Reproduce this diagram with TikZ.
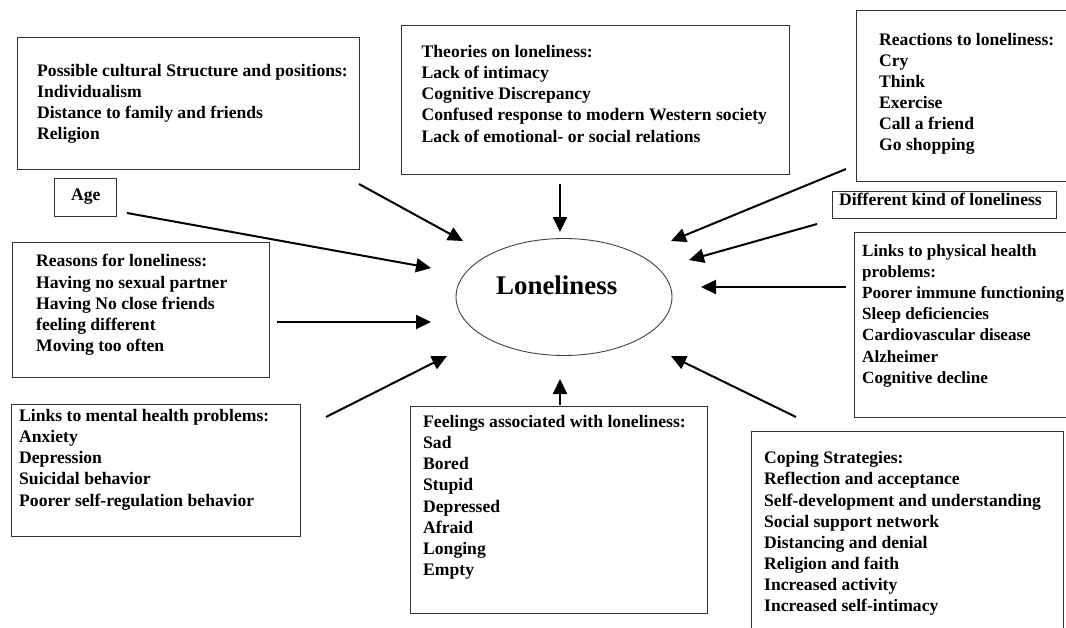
\documentclass[tikz,border=0pt]{standalone}
\usepackage{fontspec}
\setmainfont{Liberation Serif}
\usetikzlibrary{arrows.meta,shapes.geometric}
\tikzset{
  frame/.style={draw=black!80, line width=1.3pt, inner sep=0pt, anchor=north west},
  txt/.style={inner sep=0pt, anchor=north west, align=left, font=\bfseries\fontsize{17.6}{21.15}\selectfont},
  conn/.style={line width=2pt, -{Triangle[length=15pt,width=14pt]}},
}
\begin{document}
\begin{tikzpicture}[x=1pt,y=-1pt]
\useasboundingbox (0,0) rectangle (1066,627);
% boxes
\node[frame, minimum width=342pt, minimum height=132pt] (cult) at (17,37) {};
\node[frame, minimum width=62pt, minimum height=38pt] (age) at (54,178) {};
\node[frame, minimum width=388pt, minimum height=149pt] (theo) at (401,25) {};
\node[frame, minimum width=220pt, minimum height=171pt] (react) at (856,10) {};
\node[frame, minimum width=224pt, minimum height=27pt] (diff) at (832,191) {};
\node[frame, minimum width=220pt, minimum height=185pt] (phys) at (854,232) {};
\node[frame, minimum width=257pt, minimum height=135pt] (reas) at (12,242) {};
\node[frame, minimum width=289pt, minimum height=132pt] (ment) at (11,404) {};
\node[frame, minimum width=297pt, minimum height=207pt] (feel) at (410,406) {};
\node[frame, minimum width=312pt, minimum height=200pt] (cope) at (751,431) {};
% ellipse
\node[draw=black!75, line width=0.9pt, ellipse, minimum width=216pt, minimum height=117pt, inner sep=0pt] (lon) at (564,297) {};
\node[inner sep=0pt, anchor=base west, font=\bfseries\fontsize{26.9}{30}\selectfont] (lont) at (496,294) {Loneliness};
% texts
\node[txt] (cultt) at (37,64) {Possible cultural Structure and positions:\\Individualism\\Distance to family and friends\\Religion};
\node[txt, anchor=base west] (aget) at (71,200) {Age};
\node[txt] (theot) at (421.5,45) {Theories on loneliness:\\Lack of intimacy\\Cognitive Discrepancy\\Confused response to modern Western society\\Lack of emotional- or social relations};
\node[txt] (reactt) at (879,32.6) {Reactions to loneliness:\\Cry\\Think\\Exercise\\Call a friend\\Go shopping};
\node[txt, anchor=base west] (difft) at (839,205) {Different kind of loneliness};
\node[txt, font=\bfseries\fontsize{17.1}{21.15}\selectfont] (physt) at (862,244.3) {Links to physical health\\problems:\\Poorer immune functioning\\Sleep deficiencies\\Cardiovascular disease\\Alzheimer\\Cognitive decline};
\node[txt] (reast) at (36,254.3) {Reasons for loneliness:\\Having no sexual partner\\Having No close friends\\feeling different\\Moving too often};
\node[txt] (mentt) at (19,409) {Links to mental health problems:\\Anxiety\\Depression\\Suicidal behavior\\Poorer self-regulation behavior};
\node[txt] (feelt) at (423,415) {Feelings associated with loneliness:\\Sad\\Bored\\Stupid\\Depressed\\Afraid\\Longing\\Empty};
\node[txt] (copet) at (764,451.3) {Coping Strategies:\\Reflection and acceptance\\Self-development and understanding\\Social support network\\Distancing and denial\\Religion and faith\\Increased activity\\Increased self-intimacy};
% arrow endpoints
\coordinate (s1) at (359,184); \coordinate (e1) at (463,241);
\coordinate (s2) at (560,184); \coordinate (e2) at (560,232);
\coordinate (s3) at (127,213); \coordinate (e3) at (431,268);
\coordinate (s4) at (277,322); \coordinate (e4) at (431,322);
\coordinate (s5) at (326,417); \coordinate (e5) at (447,356);
\coordinate (s6) at (560,405); \coordinate (e6) at (560,379);
\coordinate (s7) at (846,169); \coordinate (e7) at (671,241);
\coordinate (s8) at (817,224); \coordinate (e8) at (689,260);
\coordinate (s9) at (846,287); \coordinate (e9) at (701,287);
\coordinate (s10) at (796,417); \coordinate (e10) at (671,356);
\foreach \i in {1,...,10} { \draw[conn] (s\i) -- (e\i); }
\end{tikzpicture}
\end{document}
